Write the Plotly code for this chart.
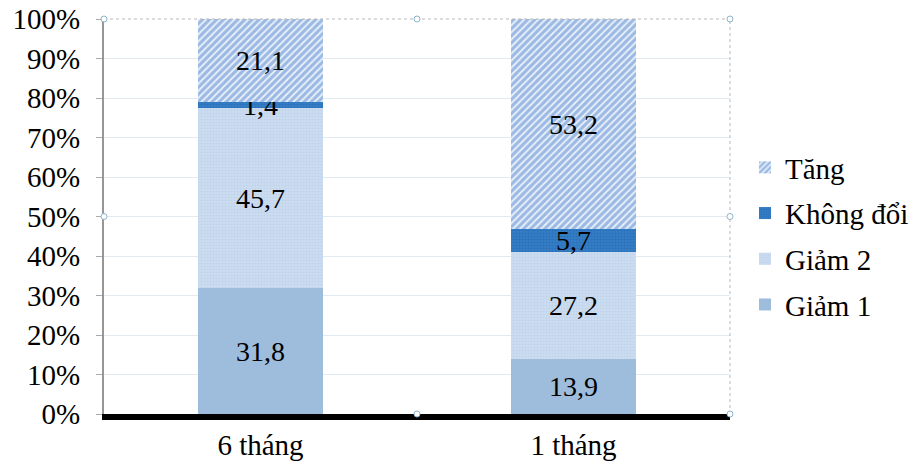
import plotly.graph_objects as go

# Categories and series values (%)
categories = ["6 tháng", "1 tháng"]
giam1 = [31.8, 13.9]
giam2 = [45.7, 27.2]
khong_doi = [1.4, 5.7]
tang = [21.1, 53.2]

tick_vals = list(range(0, 101, 10))
tick_text = [f"{v}%" for v in tick_vals]

FONT = "Liberation Serif"
AXIS_SIZE = 29
LABEL_SIZE = 28

# (name, values, marker style, legend rank)
series = [
    ("Giảm 1", giam1, dict(color="rgb(158,189,220)"), 4),
    ("Giảm 2", giam2, dict(color="rgb(196,214,236)",
                            pattern=dict(shape=".", fgcolor="rgb(178,202,230)",
                                         bgcolor="rgb(204,220,240)", size=3, solidity=0.4)), 3),
    ("Không đổi", khong_doi, dict(color="rgb(46,117,190)",
                                  pattern=dict(shape=".", fgcolor="rgb(34,98,170)",
                                               bgcolor="rgb(52,126,198)", size=3, solidity=0.4)), 2),
    ("Tăng", tang, dict(color="white",
                         pattern=dict(shape="/", fgcolor="rgb(78,132,206)",
                                      bgcolor="rgb(232,239,249)", size=5, solidity=0.62)), 1),
]

fig = go.Figure()
for i, (name, vals, marker, rank) in enumerate(series):
    fig.add_trace(go.Bar(
        name=name,
        x=categories,
        y=vals,
        marker=dict(line=dict(width=0), **marker),
        text=[f"{v:.1f}".replace(".", ",") for v in vals],
        textposition="inside",
        insidetextanchor="middle",
        constraintext="none",
        textfont=dict(family=FONT, size=LABEL_SIZE, color="black"),
        legendgroup=f"g{i}",
        legendrank=rank,
        hoverinfo="skip",
    ))

# Plot-area frame with small selection handles
shapes = [
    dict(type="line", xref="paper", yref="paper", x0=0, x1=1, y0=1, y1=1,
         line=dict(color="rgb(185,185,185)", width=1, dash="dot")),
    dict(type="line", xref="paper", yref="paper", x0=1, x1=1, y0=0, y1=1,
         line=dict(color="rgb(185,185,185)", width=1, dash="dot")),
]
for hx, hy in [(0, 1), (0.5, 1), (1, 1), (0, 0.5), (1, 0.5), (0.5, 0), (1, 0)]:
    shapes.append(dict(type="circle", xref="paper", yref="paper",
                       xsizemode="pixel", ysizemode="pixel",
                       xanchor=hx, yanchor=hy, x0=-3, x1=3, y0=-3, y1=3,
                       line=dict(color="rgb(140,180,205)", width=1),
                       fillcolor="white"))

fig.update_layout(
    barmode="stack",
    bargap=0.6,
    width=923,
    height=469,
    margin=dict(l=104, r=193, t=19, b=55),
    paper_bgcolor="white",
    plot_bgcolor="white",
    font=dict(family=FONT, size=AXIS_SIZE, color="black"),
    xaxis=dict(
        showline=True, linecolor="black", linewidth=6,
        ticks="", tickfont=dict(size=AXIS_SIZE), automargin=False,
    ),
    yaxis=dict(
        range=[0, 100],
        tickvals=tick_vals,
        ticktext=tick_text,
        showgrid=True, gridcolor="rgb(226,234,241)", gridwidth=1,
        showline=True, linecolor="rgb(150,150,150)", linewidth=2,
        ticks="outside", ticklen=6, tickcolor="rgb(170,170,170)", tickwidth=1,
        ticklabelstandoff=10,
        tickfont=dict(size=AXIS_SIZE), zeroline=False, automargin=False,
    ),
    legend=dict(
        xref="container", yref="container",
        x=745 / 923, y=(469 - 236) / 469, xanchor="left", yanchor="middle",
        traceorder="grouped", tracegroupgap=5,
        font=dict(size=AXIS_SIZE), bgcolor="rgba(0,0,0,0)",
    ),
    shapes=shapes,
    showlegend=True,
)

fig.write_html("out.html")
